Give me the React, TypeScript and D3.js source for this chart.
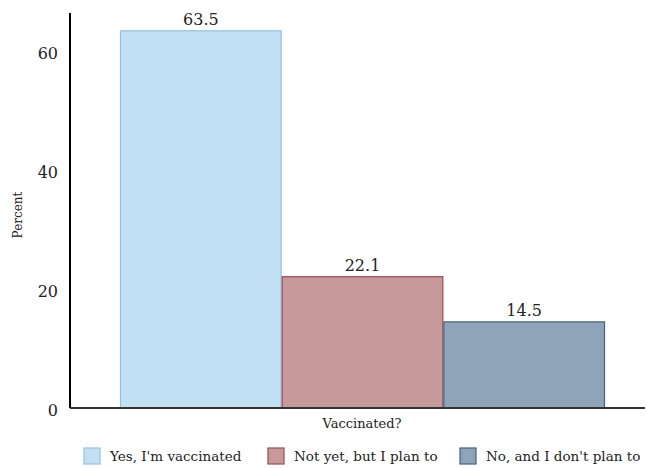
import React from "react";
import * as d3 from "d3";

const categories = ["Yes, I'm vaccinated", "Not yet, but I plan to", "No, and I don't plan to"];
const values = [63.5, 22.1, 14.5];
const yTicks = [0, 20, 40, 60];
const fills = ["#c2e0f3", "#c8999b", "#8ea4b9"];
const strokes = ["#8fc1e6", "#a14852", "#44617f"];

const W = 646;
const H = 468;
const FONT = "'DejaVu Serif', serif";

export default function App() {
  const y = d3.scaleLinear().domain([0, 66.5]).range([408, 13]);
  const x = d3.scaleBand<string>().domain(categories).range([120, 605]).padding(0);
  const legendX = [84, 268, 460];

  return (
    <svg width={W} height={H} style={{ position: "absolute", left: 0, top: 0, background: "#fff" }} fontFamily={FONT}>
      {categories.map((c, i) => (
        <rect
          key={c}
          x={x(c)! + 0.5}
          y={y(values[i])}
          width={x.bandwidth() - 1}
          height={y(0) - y(values[i])}
          fill={fills[i]}
          stroke={strokes[i]}
          strokeWidth={1.2}
        />
      ))}
      {categories.map((c, i) => (
        <text key={"v" + c} x={x(c)! + x.bandwidth() / 2} y={y(values[i]) - 6} textAnchor="middle" fontSize={16} fill="#222">
          {values[i].toFixed(1)}
        </text>
      ))}
      <line x1={70} x2={70} y1={13} y2={408} stroke="#000" strokeWidth={2} />
      <line x1={70} x2={645} y1={408} y2={408} stroke="#333" strokeWidth={2} />
      {yTicks.map((t) => (
        <text key={t} x={58} y={y(t) + 3} textAnchor="end" dominantBaseline="middle" fontSize={16} fill="#222">
          {t}
        </text>
      ))}
      <text transform={`translate(22,215) rotate(-90)`} textAnchor="middle" fontSize={12} fill="#222">
        Percent
      </text>
      <text x={362} y={428} textAnchor="middle" fontSize={13} fill="#222">
        Vaccinated?
      </text>
      {categories.map((c, i) => (
        <g key={"l" + c}>
          <rect x={legendX[i]} y={448} width={16} height={16} fill={fills[i]} stroke={strokes[i]} strokeWidth={1.2} />
          <text x={legendX[i] + 26} y={461} fontSize={13.5} fill="#222">
            {c}
          </text>
        </g>
      ))}
    </svg>
  );
}
